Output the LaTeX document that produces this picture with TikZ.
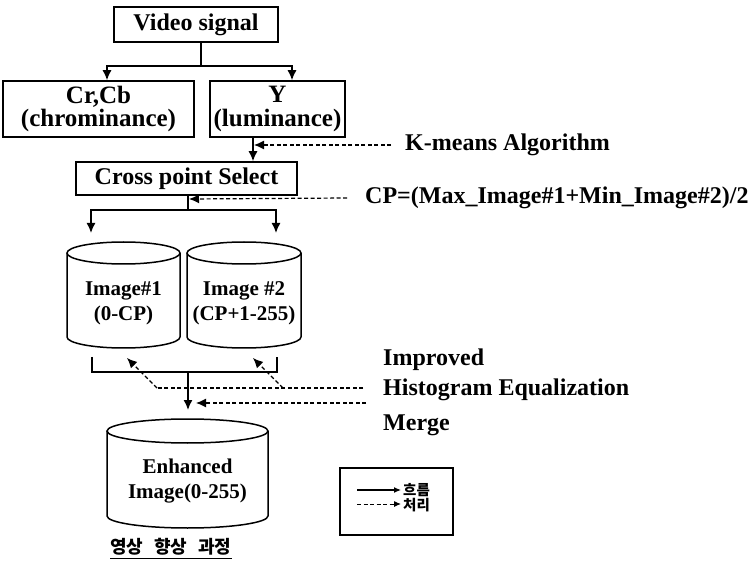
\documentclass[tikz,border=0pt]{standalone}
\usepackage{fontspec}
\setmainfont{Liberation Serif}
\newfontfamily\krfont{Noto Sans CJK KR}
\usetikzlibrary{arrows.meta}

% cylinder outline: centre x, centre y, x radius, y radius, half height
\newcommand{\drum}[5]{%
  \draw[wire] ({#1-#3},{#2+#5}) -- ({#1-#3},{#2-#5})
    arc[start angle=180,end angle=360,x radius=#3,y radius=#4]
    -- ({#1+#3},{#2+#5});
  \draw[wire] (#1,{#2+#5}) ellipse[x radius=#3,y radius=#4];
}

\begin{document}
\begin{tikzpicture}[x=1pt,y=1pt,
  wire/.style={line width=1.5pt},
  flow/.style={wire, -{Latex[length=10pt,width=9pt]}},
  proc/.style={line width=1.2pt, dash pattern=on 4pt off 2.5pt},
  procarrow/.style={proc, -{Latex[length=10pt,width=9pt]}},
  box/.style={draw, wire, inner sep=0pt, align=center, font=\bfseries\fontsize{24}{22}\selectfont},
  twoline/.style={font=\bfseries\fontsize{25}{23.5}\selectfont},
  lbl/.style={anchor=west, inner sep=0pt, font=\bfseries\fontsize{24}{26}\selectfont},
  drumtext/.style={align=center, inner sep=0pt, font=\bfseries\fontsize{21}{25}\selectfont},
  keytext/.style={anchor=west, inner sep=0pt, font=\krfont\bfseries\fontsize{14.5}{15}\selectfont},
]
\useasboundingbox (0,0) rectangle (750,-569);

% source and colour components
\node[box, minimum width=164pt, minimum height=35pt] (video) at (196,-24.5) {Video signal};
\node[box, twoline, minimum width=191pt, minimum height=56pt] (crcb) at (98.5,-109) {Cr,Cb\\(chrominance)};
\node[box, twoline, minimum width=135pt, minimum height=56pt] (luma) at (277.5,-109) {Y\\(luminance)};
\node[box, minimum width=221pt, minimum height=33pt] (cps) at (186.5,-178.5) {Cross point Select};

\coordinate (s1) at (201,-66);
\coordinate (s1l) at (107,-66);
\coordinate (s1r) at (292,-66);
\draw[wire] (video.south -| s1) -- (s1);
\draw[flow] (s1) -- (s1l) -- (crcb.north -| s1l);
\draw[flow] (s1) -- (s1r) -- (luma.north -| s1r);

% luminance into the cross point selection
\coordinate (kjoin) at (253,-145);
\draw[flow] (luma.south -| kjoin) -- (cps.north -| kjoin);
\node[lbl] (kmeans) at (405,-145) {K-means Algorithm};
\draw[procarrow] ([xshift=-14pt]kmeans.west) -- ([xshift=1pt]kjoin);

% split into two images
\coordinate (cpjoin) at (188,-199);
\coordinate (s2) at (188,-210);
\coordinate (s2l) at (91,-210);
\coordinate (s2r) at (276,-210);
\coordinate (d1in) at (91,-233);
\coordinate (d2in) at (276,-233);
\draw[wire] (cps.south -| s2) -- (s2);
\draw[flow] (s2) -- (s2l) -- (d1in);
\draw[flow] (s2) -- (s2r) -- (d2in);
\node[lbl] (cpform) at (365,-198) {CP=(Max\_Image\#1+Min\_Image\#2)/2};
\draw[procarrow] ([xshift=-18pt]cpform.west) -- ([xshift=1pt]cpjoin);

\drum{123.5}{-295}{56.5}{11}{42}
\node[drumtext] (img1) at (123.5,-303) {Image\#1\\(0-CP)};
\drum{244}{-295}{57}{11}{42}
\node[drumtext] (img2) at (244,-303) {Image \#2\\(CP+1-255)};

% merge bracket and result
\coordinate (b1) at (92,-357);
\coordinate (b2) at (92,-372);
\coordinate (b3) at (277,-372);
\coordinate (b4) at (277,-357);
\coordinate (m0) at (188,-372);
\coordinate (enhin) at (188,-410);
\draw[wire] (b1) -- (b2) -- (b3) -- (b4);
\draw[flow] (m0) -- (enhin);

\drum{187.5}{-473.5}{80.5}{12}{42.5}
\node[drumtext] (enh) at (187.5,-481) {Enhanced\\Image(0-255)};

% processing steps
\node[lbl] (impr) at (383,-360) {Improved};
\node[lbl] (histeq) at (383,-390) {Histogram Equalization};
\node[lbl] (merge) at (383,-425) {Merge};
\coordinate (h0) at (363,-388);
\coordinate (h1) at (157,-388);
\coordinate (h2) at (283,-388);
\coordinate (e1) at (127,-358);
\coordinate (e2) at (253,-358);
\draw[proc] (h0) -- (h1);
\draw[procarrow] (h1) -- (e1);
\draw[procarrow] (h2) -- (e2);
\coordinate (g0) at (366,-403);
\coordinate (g1) at (196,-403);
\draw[procarrow] (g0) -- (g1);

% key
\node[draw, wire, minimum width=113pt, minimum height=67pt] (legend) at (396.5,-501.5) {};
\coordinate (k1a) at (357,-490);
\coordinate (k1b) at (401,-490);
\coordinate (k2a) at (357,-504);
\coordinate (k2b) at (401,-504);
\draw[line width=1.2pt, -{Latex[length=7pt,width=6pt]}] (k1a) -- (k1b);
\draw[proc, line width=1pt, -{Latex[length=7pt,width=6pt]}] (k2a) -- (k2b);
\node[keytext] (flowkey) at (403,-490) {흐름};
\node[keytext] (prockey) at (403,-505) {처리};

% caption
\node[anchor=west, inner sep=0pt, font=\krfont\bfseries\fontsize{18}{18}\selectfont] (caption) at (110,-547) {영상\hspace{11pt}향상\hspace{11pt}과정};
\draw[line width=1.5pt] ([yshift=-3pt]caption.south west) -- ([yshift=-3pt]caption.south east);
\end{tikzpicture}
\end{document}
